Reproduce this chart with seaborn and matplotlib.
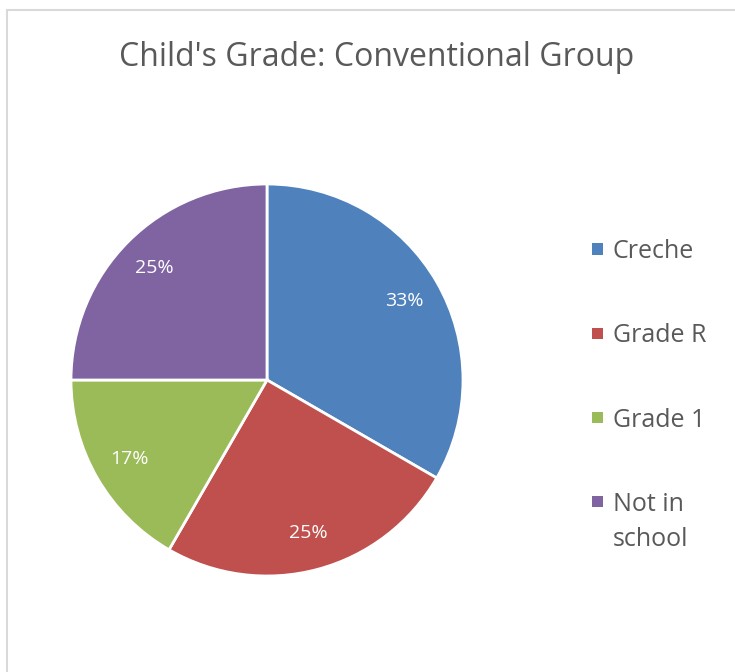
import matplotlib
matplotlib.use('Agg')
import matplotlib.pyplot as plt
import seaborn as sns
from matplotlib.patches import Rectangle

sns.set_style('white')
plt.rcParams['font.family'] = ['Open Sans', 'DejaVu Sans']

# data
grades = ['Creche', 'Grade R', 'Grade 1', 'Not in\nschool']
counts = [4, 3, 2, 3]
colors = ['#4F81BD', '#C0504D', '#9BBB59', '#8064A2']

W, H = 735, 672
fig = plt.figure(figsize=(W / 100, H / 100), dpi=100)

# chart border (light gray frame, runs off right and bottom edges)
fig.patches.append(Rectangle((7 / W, -0.05), 1.0, 1 - 10 / H + 0.05,
                             transform=fig.transFigure, fill=False,
                             edgecolor='#D9D9D9', linewidth=1.5))

# pie centre approx (267, 380) px, radius ~196 px
cx, cy, r = 267, 380, 196
ax = fig.add_axes([(cx - r) / W, (H - cy - r) / H, 2 * r / W, 2 * r / H])
wedges, texts, autotexts = ax.pie(
    counts, colors=colors, startangle=90, counterclock=False,
    autopct='%1.0f%%', pctdistance=0.81,
    wedgeprops=dict(edgecolor='white', linewidth=2),
    textprops=dict(color='white', fontsize=14))
ax.set_xlim(-1, 1)
ax.set_ylim(-1, 1)
ax.set_aspect('equal')
ax.axis('off')

fig.text(377 / W, 1 - 57 / H, "Child's Grade: Conventional Group",
         ha='center', va='center', fontsize=23, color='#595959')

# legend drawn by hand so that spacing follows the Excel layout
sq = 11
for i, (lab, c) in enumerate(zip(grades, colors)):
    y = 249 + i * 84.3
    fig.patches.append(Rectangle((592 / W, 1 - (y + sq / 2) / H), sq / W, sq / H,
                                 transform=fig.transFigure, facecolor=c,
                                 edgecolor='none'))
    fig.text(613 / W, 1 - (y - 10) / H, lab, ha='left', va='top',
             fontsize=18, color='#595959', linespacing=1.55)

fig.savefig('out.png', dpi=100)
